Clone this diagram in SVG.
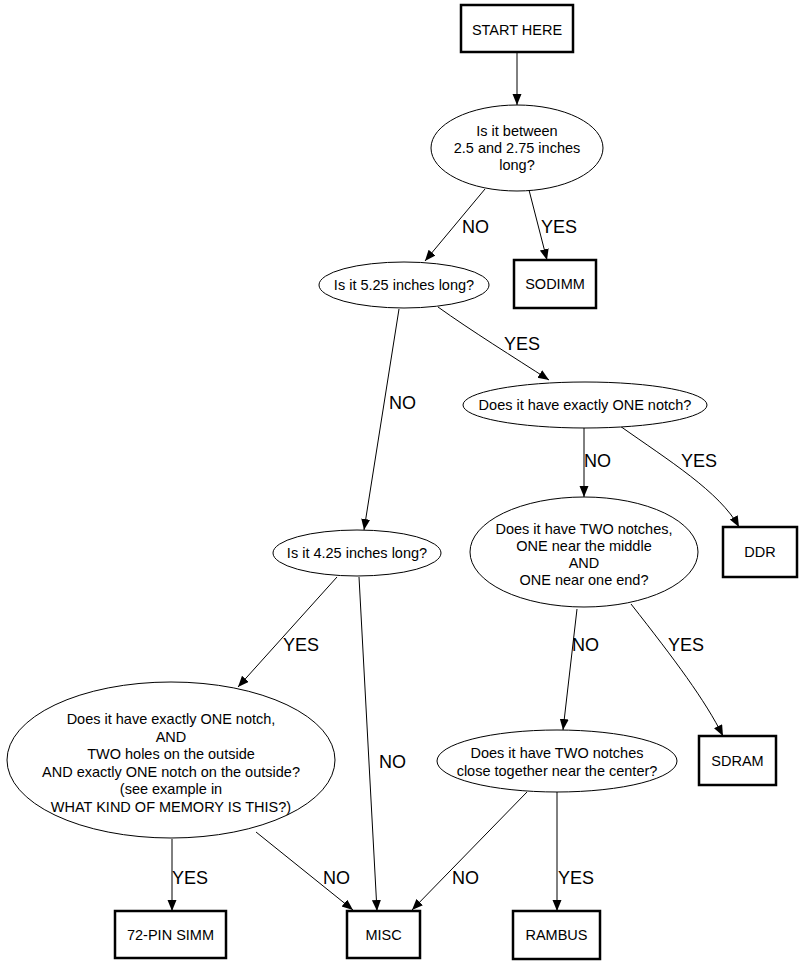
<svg xmlns="http://www.w3.org/2000/svg" width="805" height="965" viewBox="0 0 805 965">
<style>
  .box { fill: #fff; stroke: #000; stroke-width: 2.5; }
  .ell { fill: #fff; stroke: #000; stroke-width: 1; }
  .t { font-family: "Liberation Sans", Arial, Helvetica, sans-serif; font-size: 14.5px; text-anchor: middle; fill: #000; }
  .lbl { font-family: "Liberation Sans", Arial, Helvetica, sans-serif; font-size: 18px; fill: #000; }
  .e { fill: none; stroke: #000; stroke-width: 1; marker-end: url(#arr); }
</style>
<defs>
  <marker id="arr" markerUnits="userSpaceOnUse" markerWidth="12" markerHeight="10" refX="11" refY="4.5" orient="auto">
    <path d="M0,0 L11,4.5 L0,9 z" fill="#000"/>
  </marker>
</defs>
<rect width="805" height="965" fill="#fff"/>
<g id="connectors">
  <path class="e" d="M517,53 L517,105"/>
  <path class="e" d="M485,189 L425,261"/>
  <path class="e" d="M529,190 L547,260"/>
  <path class="e" d="M438,307 C470,330 515,358 549,380"/>
  <path class="e" d="M399,309 L364,530"/>
  <path class="e" d="M584,428 L584,497"/>
  <path class="e" d="M620,426 C668,460 720,492 739,527"/>
  <path class="e" d="M577,609 L563,730"/>
  <path class="e" d="M631,604 C675,660 705,700 723,736"/>
  <path class="e" d="M337,577 L238,687"/>
  <path class="e" d="M359,577 L377,911"/>
  <path class="e" d="M527,792 L412,910"/>
  <path class="e" d="M557,792 L557,911"/>
  <path class="e" d="M172,839 L172,911"/>
  <path class="e" d="M256,832 L353,910"/>
  <text class="lbl" x="462" y="233">NO</text>
  <text class="lbl" x="541" y="233">YES</text>
  <text class="lbl" x="504" y="350">YES</text>
  <text class="lbl" x="389" y="409">NO</text>
  <text class="lbl" x="584" y="467">NO</text>
  <text class="lbl" x="681" y="467">YES</text>
  <text class="lbl" x="283" y="651">YES</text>
  <text class="lbl" x="572" y="651">NO</text>
  <text class="lbl" x="668" y="651">YES</text>
  <text class="lbl" x="379" y="768">NO</text>
  <text class="lbl" x="172" y="884">YES</text>
  <text class="lbl" x="323" y="884">NO</text>
  <text class="lbl" x="452" y="884">NO</text>
  <text class="lbl" x="558" y="884">YES</text>
</g>
<g id="start">
  <rect class="box" x="461" y="5" width="112" height="47"/>
  <text class="t" x="517" y="35">START HERE</text>
</g>
<g id="q1">
  <ellipse class="ell" cx="517" cy="148" rx="86" ry="43"/>
  <text class="t" x="517" y="136">Is it between</text>
  <text class="t" x="517" y="153">2.5 and 2.75 inches</text>
  <text class="t" x="517" y="170">long?</text>
</g>
<g id="q2">
  <ellipse class="ell" cx="404" cy="285" rx="85" ry="23"/>
  <text class="t" x="404" y="290">Is it 5.25 inches long?</text>
</g>
<g id="sodimm">
  <rect class="box" x="514" y="260" width="82" height="48"/>
  <text class="t" x="555" y="289">SODIMM</text>
</g>
<g id="q3">
  <ellipse class="ell" cx="585" cy="405" rx="122" ry="23"/>
  <text class="t" x="585" y="410">Does it have exactly ONE notch?</text>
</g>
<g id="ddr">
  <rect class="box" x="723" y="527" width="74" height="50"/>
  <text class="t" x="760" y="557">DDR</text>
</g>
<g id="q4">
  <ellipse class="ell" cx="357" cy="553" rx="84" ry="23"/>
  <text class="t" x="357" y="558">Is it 4.25 inches long?</text>
</g>
<g id="q5">
  <ellipse class="ell" cx="584" cy="552" rx="114" ry="55"/>
  <text class="t" x="584" y="534">Does it have TWO notches,</text>
  <text class="t" x="584" y="551">ONE near the middle</text>
  <text class="t" x="584" y="568">AND</text>
  <text class="t" x="584" y="585">ONE near one end?</text>
</g>
<g id="q6">
  <ellipse class="ell" cx="171" cy="760" rx="164" ry="78"/>
  <text class="t" x="171" y="724">Does it have exactly ONE notch,</text>
  <text class="t" x="171" y="741.5">AND</text>
  <text class="t" x="171" y="759">TWO holes on the outside</text>
  <text class="t" x="171" y="776.5">AND exactly ONE notch on the outside?</text>
  <text class="t" x="171" y="794">(see example in</text>
  <text class="t" x="171" y="811.5">WHAT KIND OF MEMORY IS THIS?)</text>
</g>
<g id="q7">
  <ellipse class="ell" cx="557" cy="761" rx="120" ry="31"/>
  <text class="t" x="557" y="758">Does it have TWO notches</text>
  <text class="t" x="557" y="776">close together near the center?</text>
</g>
<g id="sdram">
  <rect class="box" x="699" y="736" width="77" height="49"/>
  <text class="t" x="737.5" y="766">SDRAM</text>
</g>
<g id="simm72">
  <rect class="box" x="115" y="911" width="111" height="47"/>
  <text class="t" x="170.5" y="940">72-PIN SIMM</text>
</g>
<g id="misc">
  <rect class="box" x="347" y="911" width="73" height="47"/>
  <text class="t" x="383.5" y="940">MISC</text>
</g>
<g id="rambus">
  <rect class="box" x="513" y="911" width="87" height="48"/>
  <text class="t" x="556.5" y="940">RAMBUS</text>
</g>
</svg>
